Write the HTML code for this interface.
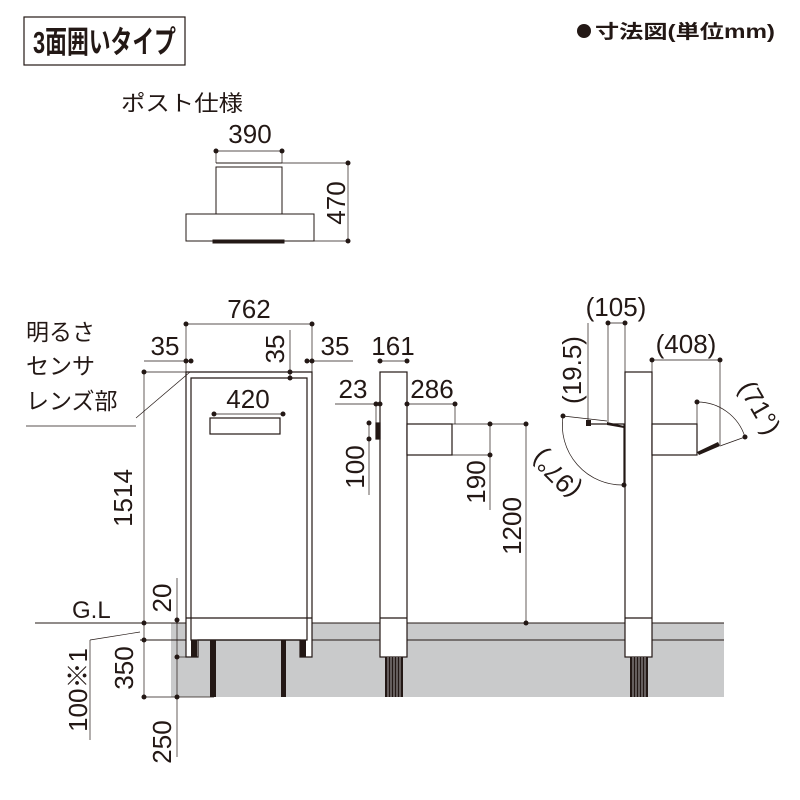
<!DOCTYPE html>
<html><head><meta charset="utf-8"><style>
html,body{margin:0;padding:0;background:#fff}
svg{display:block}
text{font-family:"Liberation Sans","Noto Sans CJK JP",sans-serif;fill:#231815}
</style></head><body>
<svg width="800" height="800" viewBox="0 0 800 800" xmlns="http://www.w3.org/2000/svg">
<rect width="800" height="800" fill="#fff"/>
<!-- title -->
<rect x="24" y="17" width="161" height="48" fill="none" stroke="#231815" stroke-width="1.2"/>
<text x="33" y="53" font-size="31" font-weight="bold" textLength="143" lengthAdjust="spacingAndGlyphs">3面囲いタイプ</text>
<circle cx="584" cy="31" r="7" fill="#231815"/>
<text x="595" y="38" font-size="19" font-weight="bold" textLength="180" lengthAdjust="spacingAndGlyphs">寸法図(単位mm)</text>
<text x="121" y="111" font-size="22" textLength="122" lengthAdjust="spacingAndGlyphs">ポスト仕様</text>

<!-- ground -->
<rect x="171" y="623" width="553" height="74" fill="#c9cacb"/>
<g stroke="#231815" fill="none" stroke-width="1">
<line x1="35" y1="623" x2="724" y2="623"/>
<line x1="140" y1="640" x2="724" y2="640"/>
</g>

<!-- post spec top -->
<g stroke="#231815" fill="#fff" stroke-width="1">
<rect x="216" y="167" width="66" height="47"/>
<line x1="216" y1="163" x2="282" y2="163"/>
<rect x="186" y="214" width="128" height="27"/>
<rect x="213" y="240" width="71" height="3" fill="#231815"/>
<line x1="216" y1="151" x2="282" y2="151" stroke-width="0.7"/>
<line x1="216" y1="151" x2="216" y2="163" stroke-width="0.7"/>
<line x1="282" y1="151" x2="282" y2="163" stroke-width="0.7"/>
<line x1="282" y1="163" x2="350" y2="163" stroke-width="0.7"/>
<line x1="314" y1="241" x2="350" y2="241" stroke-width="0.7"/>
<line x1="348" y1="163" x2="348" y2="241" stroke-width="0.7"/>
</g>
<g fill="#231815"><circle cx="216" cy="151" r="2.5"/><circle cx="282" cy="151" r="2.5"/><circle cx="348" cy="163" r="2.5"/><circle cx="348" cy="241" r="2.5"/></g>
<text x="250" y="143" font-size="26" text-anchor="middle">390</text>
<text transform="translate(345,203) rotate(-90)" font-size="26" text-anchor="middle">470</text>

<!-- front view -->
<g stroke="#231815" fill="#fff" stroke-width="1.2">
<path d="M186,372 H312 V657 H300 V640 H198 V657 H186 Z"/>
<path d="M191,378 H307 V640 H191 Z" fill="none"/>
<rect x="210" y="418" width="70" height="16"/>
<line x1="186" y1="618" x2="312" y2="618"/>
</g>
<g fill="#231815">
<rect x="191" y="640" width="6" height="17"/>
<rect x="300" y="640" width="6" height="17"/>
<rect x="210" y="640" width="6" height="57"/>
<rect x="281" y="640" width="5" height="57"/>
</g>
<!-- front dims -->
<g stroke="#231815" stroke-width="0.7" fill="none">
<line x1="186" y1="324" x2="312" y2="324"/>
<line x1="186" y1="324" x2="186" y2="372"/>
<line x1="312" y1="324" x2="312" y2="372"/>
<line x1="144" y1="361" x2="191" y2="361"/>
<line x1="307" y1="361" x2="353" y2="361"/>
<line x1="290" y1="330" x2="290" y2="378"/>
<line x1="144" y1="372" x2="186" y2="372"/>
<line x1="144" y1="372" x2="144" y2="697"/>
<line x1="214" y1="414" x2="283" y2="414"/>
<line x1="136" y1="418" x2="190" y2="372"/>
<line x1="26" y1="426" x2="136" y2="426"/>
<line x1="177" y1="578" x2="177" y2="757"/>
<line x1="144" y1="697" x2="214" y2="697"/>
<line x1="177" y1="657" x2="186" y2="657"/>
<line x1="90" y1="640" x2="90" y2="740"/>
<line x1="90" y1="640" x2="140" y2="632"/>
</g>
<g fill="#231815">
<circle cx="186" cy="324" r="2.5"/><circle cx="312" cy="324" r="2.5"/>
<circle cx="186" cy="361" r="2.5"/><circle cx="191" cy="361" r="2.5"/>
<circle cx="307" cy="361" r="2.5"/><circle cx="312" cy="361" r="2.5"/>
<circle cx="290" cy="372" r="2.5"/><circle cx="290" cy="378" r="2.5"/>
<circle cx="144" cy="372" r="2.5"/><circle cx="214" cy="414" r="2.5"/><circle cx="283" cy="414" r="2.5"/>
<circle cx="177" cy="620" r="2.5"/><circle cx="144" cy="623" r="2.5"/><circle cx="144" cy="640" r="2.5"/>
<circle cx="177" cy="657" r="2.5"/><circle cx="144" cy="697" r="2.5"/><circle cx="177" cy="697" r="2.5"/>
</g>
<text x="249" y="318" font-size="26" text-anchor="middle">762</text>
<text x="165" y="355" font-size="26" text-anchor="middle">35</text>
<text x="335" y="355" font-size="26" text-anchor="middle">35</text>
<text transform="translate(284,349) rotate(-90)" font-size="26" text-anchor="middle">35</text>
<text x="248" y="408" font-size="26" text-anchor="middle">420</text>
<text x="26" y="340" font-size="23">明るさ</text>
<text x="26" y="374" font-size="23">センサ</text>
<text x="26" y="409" font-size="23">レンズ部</text>
<text transform="translate(132,498) rotate(-90)" font-size="26" text-anchor="middle">1514</text>
<text transform="translate(171,598) rotate(-90)" font-size="26" text-anchor="middle">20</text>
<text x="72" y="618" font-size="24">G.L</text>
<text transform="translate(133,668) rotate(-90)" font-size="26" text-anchor="middle">350</text>
<text transform="translate(87,690) rotate(-90)" font-size="26" text-anchor="middle">100※1</text>
<text transform="translate(171,742) rotate(-90)" font-size="26" text-anchor="middle">250</text>

<!-- side view -->
<g stroke="#231815" fill="#fff" stroke-width="1.2">
<rect x="380" y="372" width="27" height="285"/>
<line x1="380" y1="618" x2="407" y2="618"/>
<rect x="407" y="424" width="45" height="31"/>
<rect x="376" y="423" width="4" height="16" fill="#231815"/>
</g>
<g fill="#231815"><rect x="385" y="657" width="18" height="40"/></g>
<g stroke="#c9cacb" stroke-width="0.8"><line x1="388" y1="657" x2="388" y2="697"/><line x1="391" y1="657" x2="391" y2="697"/><line x1="394" y1="657" x2="394" y2="697"/><line x1="397" y1="657" x2="397" y2="697"/><line x1="400" y1="657" x2="400" y2="697"/></g>
<g stroke="#231815" stroke-width="0.7" fill="none">
<line x1="380" y1="361" x2="407" y2="361"/>
<line x1="335" y1="404" x2="380" y2="404"/>
<line x1="407" y1="404" x2="455" y2="404"/>
<line x1="455" y1="404" x2="455" y2="424"/>
<line x1="376" y1="404" x2="376" y2="423"/>
<line x1="369" y1="423" x2="369" y2="495"/>
<line x1="452" y1="424" x2="527" y2="424"/>
<line x1="452" y1="455" x2="490" y2="455"/>
<line x1="490" y1="424" x2="490" y2="510"/>
<line x1="526" y1="424" x2="526" y2="623"/>
</g>
<g fill="#231815">
<circle cx="380" cy="361" r="2.5"/><circle cx="407" cy="361" r="2.5"/>
<circle cx="376" cy="404" r="2.5"/><circle cx="380" cy="404" r="2.5"/><circle cx="407" cy="404" r="2.5"/><circle cx="455" cy="404" r="2.5"/>
<circle cx="369" cy="423" r="2.5"/><circle cx="369" cy="439" r="2.5"/>
<circle cx="490" cy="424" r="2.5"/><circle cx="490" cy="455" r="2.5"/>
<circle cx="526" cy="424" r="2.5"/><circle cx="526" cy="623" r="2.5"/>
</g>
<text x="393" y="355" font-size="26" text-anchor="middle">161</text>
<text x="353" y="398" font-size="26" text-anchor="middle">23</text>
<text x="432" y="398" font-size="26" text-anchor="middle">286</text>
<text transform="translate(364,467) rotate(-90)" font-size="26" text-anchor="middle">100</text>
<text transform="translate(485,482) rotate(-90)" font-size="26" text-anchor="middle">190</text>
<text transform="translate(521,526) rotate(-90)" font-size="26" text-anchor="middle">1200</text>

<!-- right view -->
<g stroke="#231815" fill="#fff" stroke-width="1.2">
<rect x="625" y="372" width="27" height="285"/>
<line x1="625" y1="618" x2="652" y2="618"/>
<rect x="652" y="424" width="45" height="31"/>
<line x1="586" y1="424" x2="625" y2="424"/>
<line x1="624" y1="424" x2="624" y2="485"/>
</g>
<g fill="#231815">
<rect x="630" y="657" width="18" height="40"/>
<rect x="586" y="420" width="5" height="6"/>
<path d="M607,422 L624,426 L624,428 L607,425Z"/>
<path d="M697,452 L718,442 L720,446 L699,455Z"/>
</g>
<g stroke="#c9cacb" stroke-width="0.8"><line x1="633" y1="657" x2="633" y2="697"/><line x1="636" y1="657" x2="636" y2="697"/><line x1="639" y1="657" x2="639" y2="697"/><line x1="642" y1="657" x2="642" y2="697"/><line x1="645" y1="657" x2="645" y2="697"/></g>
<g stroke="#231815" stroke-width="0.7" fill="none">
<line x1="588" y1="323" x2="588" y2="420"/>
<line x1="608" y1="323" x2="608" y2="422"/>
<line x1="625" y1="323" x2="625" y2="372"/>
<line x1="608" y1="323" x2="625" y2="323"/>
<line x1="652" y1="360" x2="720" y2="360"/>
<line x1="652" y1="360" x2="652" y2="372"/>
<line x1="720" y1="360" x2="720" y2="445"/>
<line x1="563" y1="416" x2="607" y2="421"/>
<path d="M563,416 A60,60 0 0 0 624,485"/>
<line x1="697" y1="402" x2="697" y2="424"/>
<path d="M697,402 A50,50 0 0 1 745,437"/>
<line x1="720" y1="446" x2="745" y2="437"/>
</g>
<g fill="#231815">
<circle cx="608" cy="323" r="2.5"/><circle cx="625" cy="323" r="2.5"/>
<circle cx="652" cy="360" r="2.5"/><circle cx="720" cy="360" r="2.5"/>
<circle cx="563" cy="416" r="2.5"/><circle cx="624" cy="485" r="2.5"/>
<circle cx="697" cy="402" r="2.5"/><circle cx="745" cy="437" r="2.5"/>
</g>
<text x="616" y="316" font-size="26" text-anchor="middle">(105)</text>
<text x="686" y="353" font-size="26" text-anchor="middle">(408)</text>
<text transform="translate(581,370) rotate(-90)" font-size="26" text-anchor="middle">(19.5)</text>
<text transform="translate(752,412) rotate(60)" font-size="26" text-anchor="middle">(71°)</text>
<text transform="translate(562,468) rotate(225)" font-size="26" text-anchor="middle">(97°)</text>
</svg>
</body></html>
